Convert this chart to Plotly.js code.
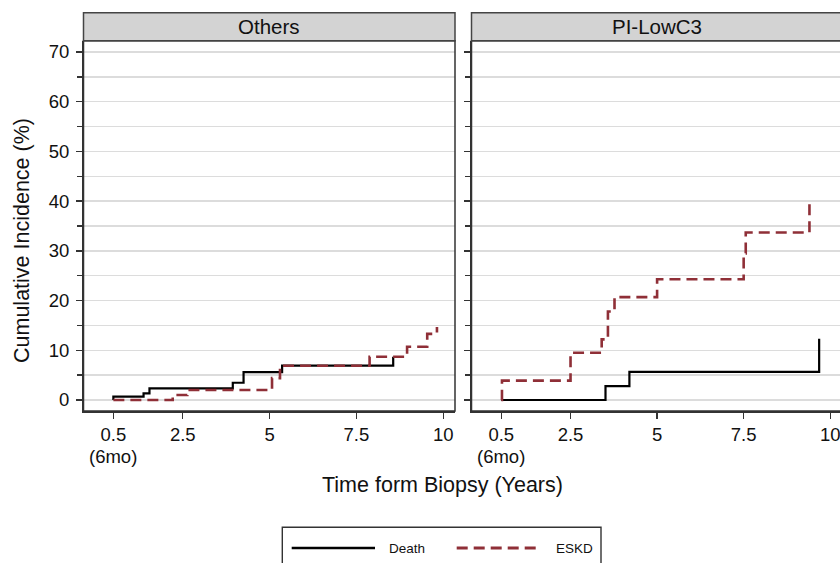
<!DOCTYPE html>
<html><head><meta charset="utf-8">
<script src="https://cdn.plot.ly/plotly-3.0.1.min.js"></script>
<style>html,body{margin:0;padding:0;overflow:hidden;background:#fff}#chart{width:842px;height:563px}</style>
</head><body><div id="chart"></div><script>
// Panel names
const panels = ['Others', 'PI-LowC3'];
const seriesNames = ['Death', 'ESKD'];

// Others panel (step functions: time in years, cumulative incidence %)
const othersDeathT = [0.5, 0.5, 1.37, 1.54, 3.94, 4.25, 5.36, 8.56];
const othersDeathY = [0, 0.67, 1.33, 2.33, 3.47, 5.6, 6.9, 8.7];
const othersEskdT = [0.5, 2.21, 2.63, 5.07, 5.3, 7.88, 8.96, 9.54, 9.82];
const othersEskdY = [0, 1.0, 2.0, 4.4, 6.9, 8.7, 10.7, 13.3, 14.7];

// PI-LowC3 panel
const lowc3DeathT = [0.5, 3.51, 4.20, 9.68];
const lowc3DeathY = [0, 2.8, 5.65, 12.3];
const lowc3EskdT = [0.5, 0.52, 2.5, 3.40, 3.58, 3.77, 5.0, 7.5, 7.56, 9.40];
const lowc3EskdY = [0, 3.9, 9.5, 12.2, 17.8, 20.7, 24.3, 29.5, 33.7, 40.3];

// Axis ticks
const xTickVals = [0.5, 2.5, 5, 7.5, 10];
const xTickText = ['0.5', '2.5', '5', '7.5', '10'];
const xSubLabel = '(6mo)';

const W = 842, H = 563;
const px = v => v / W;
const py = v => (H - v) / H;

const FONT = '"Liberation Sans", Arial, sans-serif';
const deathColor = '#000000';
const eskdColor = '#8f2f37';
const eskdDash = '11px,6px';
const frameColor = '#333';

function tr(x, y, name, xa, ya) {
  const isDeath = name === 'Death';
  return {
    x: x, y: y, name: name, type: 'scatter', mode: 'lines',
    xaxis: xa, yaxis: ya, showlegend: false,
    line: {shape: 'hv', color: isDeath ? deathColor : eskdColor,
           width: isDeath ? 2.2 : 2.6, dash: isDeath ? 'solid' : eskdDash},
    hoverinfo: 'skip'
  };
}

const data = [
  tr(othersDeathT, othersDeathY, seriesNames[0], 'x', 'y'),
  tr(othersEskdT, othersEskdY, seriesNames[1], 'x', 'y'),
  tr(lowc3DeathT, lowc3DeathY, seriesNames[0], 'x2', 'y2'),
  tr(lowc3EskdT, lowc3EskdY, seriesNames[1], 'x2', 'y2')
];

const yDom = [py(411), py(40.7)];
const xDom1 = [px(83.5), px(455)];
const xDom2 = [px(471.5), px(842)];

function xaxis(dom, anchor) {
  return {
    domain: dom, anchor: anchor, range: [-0.36, 10.34],
    tickmode: 'array', tickvals: xTickVals, ticktext: xTickText,
    ticks: 'outside', ticklen: 6, tickwidth: 1.3, tickcolor: frameColor,
    showgrid: false, zeroline: false,
    showline: true, linecolor: frameColor, linewidth: 1.5, mirror: false,
    tickfont: {family: FONT, size: 18.5, color: '#111'}
  };
}
function yaxis(anchor, labels) {
  return {
    domain: yDom, anchor: anchor, range: [-2.21, 72.27],
    tickmode: 'linear', tick0: 0, dtick: 10,
    ticks: 'outside', ticklen: 6, tickwidth: 1.3, tickcolor: frameColor,
    showticklabels: labels,
    showgrid: true, gridcolor: '#dcdcdc', gridwidth: 1.4,
    minor: {tick0: 0, dtick: 5, ticks: 'outside', ticklen: 5, tickcolor: frameColor, tickwidth: 1.3,
            showgrid: true, gridcolor: '#dcdcdc', gridwidth: 1.4},
    zeroline: false,
    showline: true, linecolor: frameColor, linewidth: 1.5, mirror: false,
    tickfont: {family: FONT, size: 18.5, color: '#111'},
    ticklabelstandoff: 3
  };
}

const stripY = [py(40.7), py(12.7)];
const shapes = [];
const annotations = [];
[[xDom1, panels[0], 'x'], [xDom2, panels[1], 'x2']].forEach(([dom, label, xa]) => {
  // panel frame
  shapes.push({type: 'rect', xref: 'paper', yref: 'paper', x0: dom[0], x1: dom[1],
               y0: yDom[0], y1: yDom[1], fillcolor: 'rgba(0,0,0,0)', line: {color: frameColor, width: 1.5}, layer: 'above'});
  // strip
  shapes.push({type: 'rect', xref: 'paper', yref: 'paper', x0: dom[0], x1: dom[1],
               y0: stripY[0], y1: stripY[1], fillcolor: '#d3d3d3', line: {color: '#444', width: 1.5}, layer: 'above'});
  annotations.push({xref: 'paper', yref: 'paper', x: (dom[0] + dom[1]) / 2, y: (stripY[0] + stripY[1]) / 2,
                    text: label, showarrow: false, xanchor: 'center', yanchor: 'middle',
                    font: {family: FONT, size: 20.5, color: '#111'}});
  // second line of first tick label
  annotations.push({xref: xa, yref: 'paper', x: xTickVals[0], y: py(456), text: xSubLabel,
                    showarrow: false, xanchor: 'center', yanchor: 'middle',
                    font: {family: FONT, size: 18.5, color: '#111'}});
});

// Axis titles
annotations.push({xref: 'paper', yref: 'paper', x: px(22), y: py(241), text: 'Cumulative Incidence (%)',
                  textangle: -90, showarrow: false, xanchor: 'center', yanchor: 'middle',
                  font: {family: FONT, size: 21.5, color: '#111'}});
annotations.push({xref: 'paper', yref: 'paper', x: px(442), y: py(485), text: 'Time form Biopsy (Years)',
                  showarrow: false, xanchor: 'center', yanchor: 'middle',
                  font: {family: FONT, size: 21.5, color: '#111'}});

// Legend (drawn manually to match the long line samples)
shapes.push({type: 'rect', xref: 'paper', yref: 'paper', x0: px(282.3), x1: px(601), y0: py(580), y1: py(527.3),
             fillcolor: 'rgba(0,0,0,0)', line: {color: frameColor, width: 1.4}});
shapes.push({type: 'line', xref: 'paper', yref: 'paper', x0: px(291.7), x1: px(375), y0: py(548), y1: py(548),
             line: {color: deathColor, width: 2.4}});
shapes.push({type: 'line', xref: 'paper', yref: 'paper', x0: px(456.7), x1: px(539.3), y0: py(548), y1: py(548),
             line: {color: eskdColor, width: 2.8, dash: eskdDash}});
annotations.push({xref: 'paper', yref: 'paper', x: px(387), y: py(548), text: seriesNames[0], showarrow: false,
                  xanchor: 'left', yanchor: 'middle', font: {family: FONT, size: 13.5, color: '#111'}});
annotations.push({xref: 'paper', yref: 'paper', x: px(554), y: py(548), text: seriesNames[1], showarrow: false,
                  xanchor: 'left', yanchor: 'middle', font: {family: FONT, size: 13.5, color: '#111'}});

const layout = {
  width: W, height: H,
  margin: {l: 0, r: 0, t: 0, b: 0},
  paper_bgcolor: '#fff', plot_bgcolor: '#fff',
  showlegend: false,
  xaxis: xaxis(xDom1, 'y'),
  yaxis: yaxis('x', true),
  xaxis2: xaxis(xDom2, 'y2'),
  yaxis2: yaxis('x2', false),
  shapes: shapes,
  annotations: annotations,
  font: {family: FONT}
};

Plotly.newPlot('chart', data, layout, {staticPlot: true, displayModeBar: false});
</script></body></html>
